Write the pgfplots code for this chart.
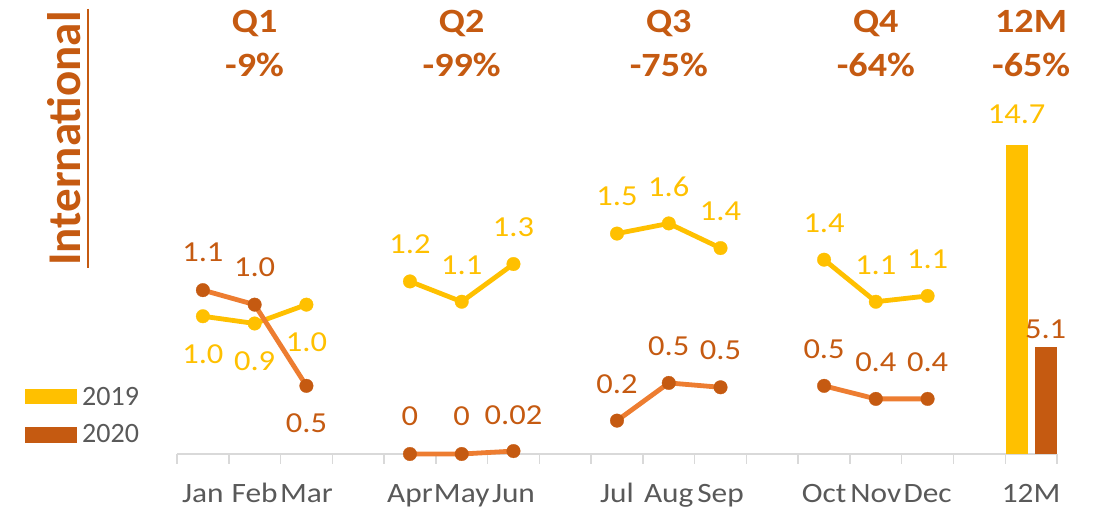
\documentclass[border=0pt]{standalone}
\usepackage{pgfplots}
\pgfplotsset{compat=1.18}
\usepackage{pgfplotstable}
\usepackage{fontspec}
\setmainfont{Carlito}
\newfontfamily\wide{Carlito}[FakeStretch=1.12]
\definecolor{cyel}{HTML}{FFC000}
\definecolor{cdk}{HTML}{C55A11}
\definecolor{corg}{HTML}{ED7D31}
\definecolor{cgray}{HTML}{595959}
\definecolor{caxis}{HTML}{D9D9D9}

\pgfplotstableread{
x y lab dy
0 0.95 1.0 -38
1 0.90 0.9 -38
2 1.03 1.0 -38
3 nan x 0
4 1.19 1.2 37
5 1.05 1.1 37
6 1.31 1.3 37
7 nan x 0
8 1.52 1.5 37
9 1.59 1.6 37
10 1.42 1.4 37
11 nan x 0
12 1.34 1.4 37
13 1.05 1.1 37
14 1.09 1.1 37
}\tabA

\pgfplotstableread{
x y lab dy
0 1.13 1.1 38
1 1.03 1.0 38
2 0.47 0.5 -38
3 nan x 0
4 0.00 0 38
5 0.00 0 38
6 0.02 0.02 36
7 nan x 0
8 0.23 0.2 37
9 0.49 0.5 37
10 0.46 0.5 37
11 nan x 0
12 0.47 0.5 37
13 0.38 0.4 37
14 0.38 0.4 37
}\tabB

\pgfplotsset{
  base/.style={
    scale only axis, width=880bp, height=444bp,
    at={(177bp,57bp)}, anchor=south west,
    xmin=-0.5, xmax=16.5, ymin=0,
    clip=false,
  },
}

\begin{document}
\begin{tikzpicture}[x=1bp,y=1bp]
\path[use as bounding box] (0,0) rectangle (1101,511);

% line axis
\begin{axis}[base,
  ymax=3.062,
  axis x line*=bottom, axis y line=none,
  axis line style={caxis, line width=1.5bp, -},
  xtick={0,1,2,4,5,6,8,9,10,12,13,14,16},
  xticklabels={Jan,Feb,Mar,Apr,May,Jun,Jul,Aug,Sep,Oct,Nov,Dec,12M},
  major tick length=0pt,
  minor xtick={-0.5,0.5,...,16.5},
  minor tick length=10bp,
  tick align=outside,
  minor tick style={caxis, line width=1.5bp},
  xticklabel style={anchor=base, yshift=-49bp, text=cgray, font=\wide\fontsize{28bp}{34bp}\selectfont, inner sep=0pt},
  unbounded coords=jump,
  nodes near coords,
  point meta=explicit symbolic,
  visualization depends on={\thisrow{dy} \as \dy},
]
\addplot[cyel, line width=4.8bp, mark=*, mark size=6.8bp, mark options={solid, fill=cyel, draw=cyel, line width=0.3bp},
  every node near coord/.append style={anchor=center, yshift=\dy pt, text=cyel, font=\wide\fontsize{29bp}{34bp}\selectfont, inner sep=0pt}]
  table[x=x, y=y, meta=lab]{\tabA};
\addplot[corg, line width=4.8bp, mark=*, mark size=6.8bp, mark options={solid, fill=cdk, draw=cdk, line width=0.3bp},
  every node near coord/.append style={anchor=center, yshift=\dy pt, text=cdk, font=\wide\fontsize{29bp}{34bp}\selectfont, inner sep=0pt}]
  table[x=x, y=y, meta=lab]{\tabB};
\end{axis}

% bar axis
\begin{axis}[base,
  ymax=21.14,
  hide axis,
  ybar, bar width=22bp,
  nodes near coords,
  point meta=explicit symbolic,
  nodes near coords style={font=\wide\fontsize{29bp}{34bp}\selectfont, inner sep=0pt, anchor=center},
]
\addplot[fill=cyel, draw=none, bar shift=-14.5bp,
  every node near coord/.append style={text=cyel, yshift=31bp}]
  coordinates {(16,14.7) [14.7]};
\addplot[fill=cdk, draw=none, bar shift=14.5bp,
  every node near coord/.append style={text=cdk, yshift=18bp}]
  coordinates {(16,5.1) [5.1]};
\end{axis}

% quarter titles
\begin{scope}[every node/.style={anchor=base, text=cdk, font=\wide\bfseries\fontsize{34bp}{40bp}\selectfont, inner sep=0pt}]
\node at (254.6,478) {Q1};
\node at (254.6,434) {-9\%};
\node at (461.7,478) {Q2};
\node at (461.7,434) {-99\%};
\node at (668.8,478) {Q3};
\node at (668.8,434) {-75\%};
\node at (875.8,478) {Q4};
\node at (875.8,434) {-64\%};
\node at (1031.1,478) {12M};
\node at (1031.1,434) {-65\%};
\end{scope}

% vertical title
\node[rotate=90, anchor=base, text=cdk, font=\bfseries\fontsize{47bp}{52bp}\selectfont, inner sep=0pt] at (80,372.5) {International};
\draw[cdk, line width=2.5bp] (88,502) -- (88,243);

% legend
\fill[cyel] (25,107) rectangle (77,122);
\fill[cdk] (25,68) rectangle (77,84);
\node[anchor=base west, text=cgray, font=\fontsize{28bp}{34bp}\selectfont, inner sep=0pt] at (82,105) {2019};
\node[anchor=base west, text=cgray, font=\fontsize{28bp}{34bp}\selectfont, inner sep=0pt] at (82,68) {2020};
\end{tikzpicture}
\end{document}
